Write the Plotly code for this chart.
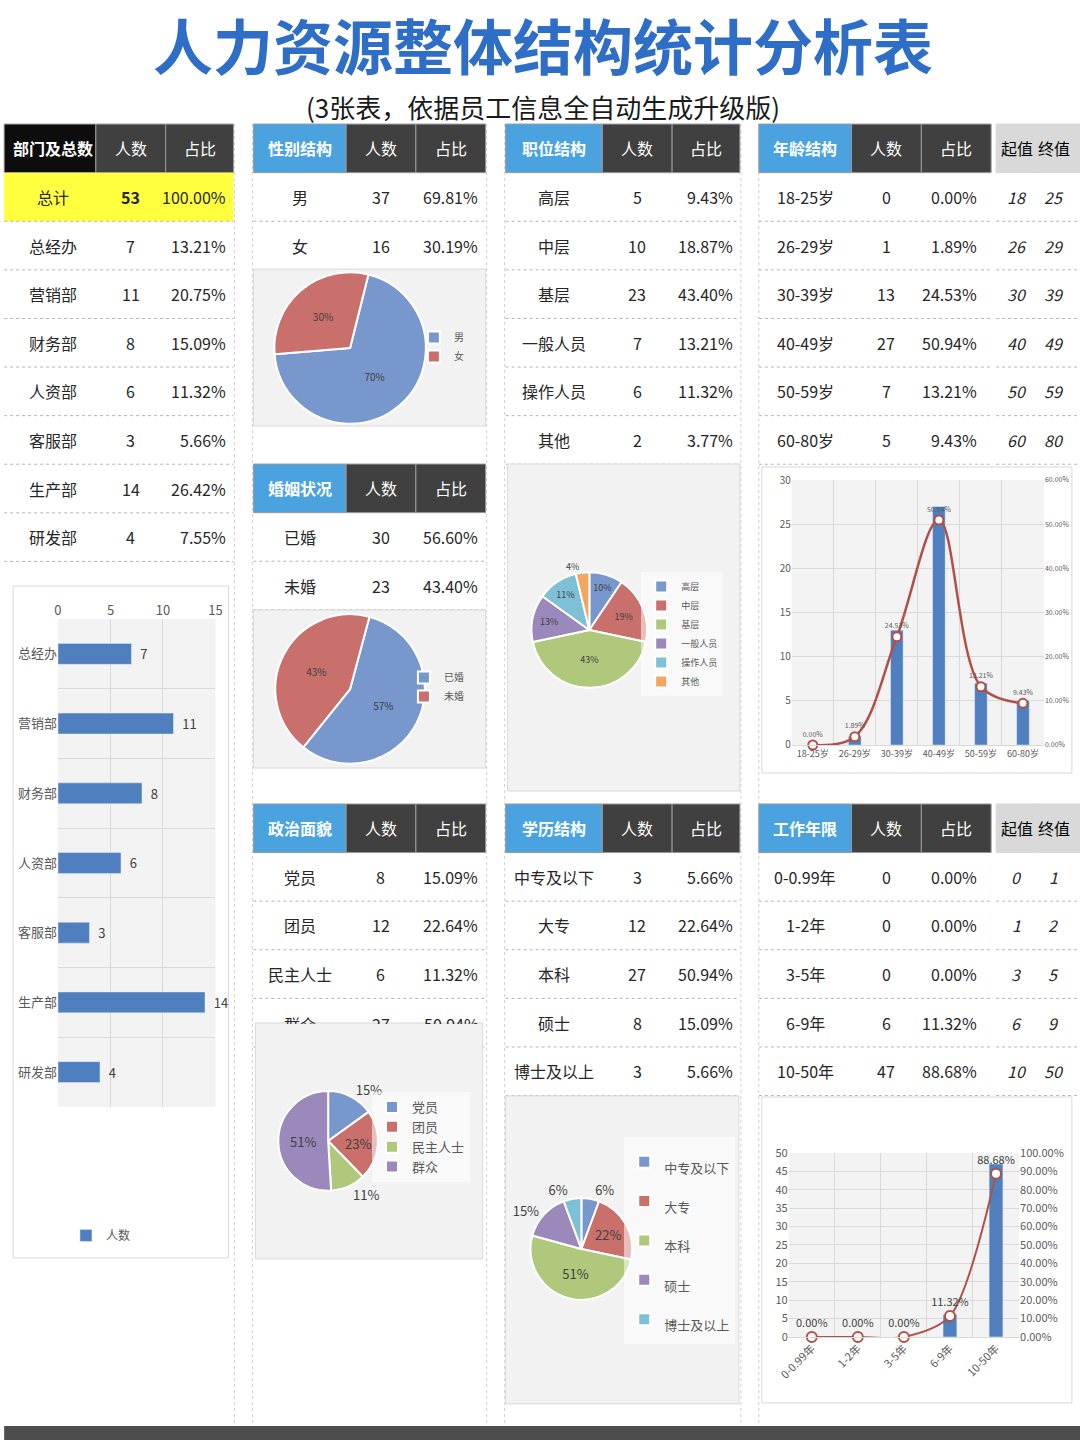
import plotly.graph_objects as go

# Window-pixel layout (1080x1440).  The page body keeps an 8px margin and the
# capture is scaled back to the window, so positions are mapped into figure
# coordinates with that small correction.
PAGE_W, PAGE_H, OFF = 1080, 1440, 8
W, H = PAGE_W, PAGE_H
SX = (PAGE_W + 2 * OFF) / PAGE_W
SY = (PAGE_H + 2 * OFF) / PAGE_H
FONT = "Noto Sans CJK SC, Noto Sans, sans-serif"

# ---------------- data ----------------
total_count = 53
dept_names = ['总经办', '营销部', '财务部', '人资部', '客服部', '生产部', '研发部']
dept_counts = [7, 11, 8, 6, 3, 14, 4]

gender_labels = ['男', '女']
gender_counts = [37, 16]
gender_pie_text = ['70%', '30%']

marital_labels = ['已婚', '未婚']
marital_counts = [30, 23]
marital_pie_text = ['57%', '43%']

position_labels = ['高层', '中层', '基层', '一般人员', '操作人员', '其他']
position_counts = [5, 10, 23, 7, 6, 2]
position_pie_text = ['10%', '19%', '43%', '13%', '11%', '4%']

age_labels = ['18-25岁', '26-29岁', '30-39岁', '40-49岁', '50-59岁', '60-80岁']
age_counts = [0, 1, 13, 27, 7, 5]
age_start = [18, 26, 30, 40, 50, 60]
age_end = [25, 29, 39, 49, 59, 80]

political_labels = ['党员', '团员', '民主人士', '群众']
political_counts = [8, 12, 6, 27]
political_pie_text = ['15%', '23%', '11%', '51%']

edu_labels = ['中专及以下', '大专', '本科', '硕士', '博士及以上']
edu_counts = [3, 12, 27, 8, 3]
edu_pie_text = ['6%', '22%', '51%', '15%', '6%']

work_labels = ['0-0.99年', '1-2年', '3-5年', '6-9年', '10-50年']
work_counts = [0, 0, 0, 6, 47]
work_start = [0, 1, 3, 6, 10]
work_end = [1, 2, 5, 9, 50]

# ---------------- style ----------------
PIE_COLORS = ['#7898cd', '#c96f6c', '#afc87c', '#9c89bb', '#7ec0d5', '#f2a660']
BAR_BLUE = '#4f7fbe'
LINE_RED = '#b24f49'
HDR_BLUE = '#4aa3df'
HDR_DARK = '#404040'
HDR_BLACK = '#0d0d0d'
TXT = '#262626'
NOFILL = 'rgba(0,0,0,0)'


def pct(c):
    return f'{c / total_count:.2%}'


def X(px):
    return (px * SX - OFF) / W


def Y(py):
    return 1 - (py * SY - OFF) / H


shapes = []
annotations = []


def rect(x0, y0, x1, y1, fill, line=None, lw=1, layer='below', dash='solid'):
    shapes.append(dict(type='rect', xref='paper', yref='paper',
                       x0=X(x0), x1=X(x1), y0=Y(y1), y1=Y(y0),
                       fillcolor=fill,
                       line=dict(color=line if line else NOFILL, width=lw if line else 0, dash=dash),
                       layer=layer))


def seg(x0, y0, x1, y1, color='#b4b4b4', dash='dot', width=1):
    shapes.append(dict(type='line', xref='paper', yref='paper',
                       x0=X(x0), x1=X(x1), y0=Y(y0), y1=Y(y1),
                       line=dict(color=color, width=width, dash=dash), layer='below'))


def text(x, y, s, size=16, color=TXT, xanchor='center', bold=False, italic=False, **kw):
    if bold:
        s = f'<b>{s}</b>'
    if italic:
        s = f'<i>{s}</i>'
    annotations.append(dict(x=X(x), y=Y(y), xref='paper', yref='paper', text=s,
                            showarrow=False, xanchor=xanchor, yanchor=kw.pop('yanchor', 'middle'),
                            font=dict(size=size, color=color, family=FONT), **kw))


RH = 48.6


def table(edges, top, headers, hfills, hcolors, rows, aligns, fills=None, italic=False,
          bold_title=True, rpad=5, clip_at=None, bold_cells=(), hborder='#9a9a9a', fill_edges=None):
    fe = fill_edges or edges
    for j, h in enumerate(headers):
        rect(fe[j], top, fe[j + 1], top + RH, hfills[j], line=hborder, lw=1)
        text((edges[j] + edges[j + 1]) / 2, top + RH / 2, h, size=16, color=hcolors[j],
             bold=(j == 0 and bold_title))
    for i, row in enumerate(rows):
        y0 = top + RH * (i + 1)
        yc = y0 + RH / 2
        if fills and fills[i]:
            rect(fe[0], y0, fe[-1], y0 + RH, fills[i])
        seg(fe[0], y0 + RH, fe[-1], y0 + RH)
        for j, v in enumerate(row):
            s = str(v)
            b = (i, j) in bold_cells
            if aligns[j] == 'right':
                xx, xa = edges[j + 1] - rpad, 'right'
            else:
                xx, xa = (edges[j] + edges[j + 1]) / 2, 'center'
            if clip_at is not None and yc + 10 > clip_at:
                top_y = clip_at - 12
                text(xx, top_y, s, size=16, xanchor=xa, bold=b, italic=italic,
                     yanchor='top', height=12, valign='top', borderpad=0)
            else:
                text(xx, yc, s, size=16, xanchor=xa, bold=b, italic=italic)


# ---------------- page decoration ----------------
for vx in [231, 249, 484, 502, 739, 757]:
    seg(vx, 123, vx, 1425, color='#d0d0d0')

text(540, 42, '人力资源整体结构统计分析表', size=60, color='#2f6ec6', bold=True)
text(540, 105, '(3张表，依据员工信息全自动生成升级版)', size=26, color='#1a1a1a')

# ---------------- tables ----------------
T1 = [6, 92, 162, 230]
T1F = [0, 92, 162, 230]
T2 = [250, 343, 413, 483]
T3 = [503, 600, 670, 738]
T4 = [757, 850, 920, 990]
T5 = [995, 1036, 1070]
T5F = [995, 1036, 1080]
HDR_FC = ['white', 'white', 'white']
AL = ['center', 'center', 'right']

dept_rows = [['总计', total_count, pct(total_count)]] + \
            [[n, c, pct(c)] for n, c in zip(dept_names, dept_counts)]
table(T1, 123, ['部门及总数', '人数', '占比'], [HDR_BLACK, HDR_DARK, HDR_DARK], HDR_FC,
      dept_rows, AL, fills=['#ffff3f'] + [None] * 7, bold_cells=[(0, 1)], fill_edges=T1F)

table(T2, 123, ['性别结构', '人数', '占比'], [HDR_BLUE, HDR_DARK, HDR_DARK], HDR_FC,
      [[n, c, pct(c)] for n, c in zip(gender_labels, gender_counts)], AL, rpad=6)
table(T2, 463, ['婚姻状况', '人数', '占比'], [HDR_BLUE, HDR_DARK, HDR_DARK], HDR_FC,
      [[n, c, pct(c)] for n, c in zip(marital_labels, marital_counts)], AL, rpad=6)
table(T2, 803, ['政治面貌', '人数', '占比'], [HDR_BLUE, HDR_DARK, HDR_DARK], HDR_FC,
      [[n, c, pct(c)] for n, c in zip(political_labels, political_counts)], AL, rpad=6,
      clip_at=1022)

table(T3, 123, ['职位结构', '人数', '占比'], [HDR_BLUE, HDR_DARK, HDR_DARK], HDR_FC,
      [[n, c, pct(c)] for n, c in zip(position_labels, position_counts)], AL)
table(T3, 803, ['学历结构', '人数', '占比'], [HDR_BLUE, HDR_DARK, HDR_DARK], HDR_FC,
      [[n, c, pct(c)] for n, c in zip(edu_labels, edu_counts)], AL)

table(T4, 123, ['年龄结构', '人数', '占比'], [HDR_BLUE, HDR_DARK, HDR_DARK], HDR_FC,
      [[n, c, pct(c)] for n, c in zip(age_labels, age_counts)], AL, rpad=12)
table(T5, 123, ['起值', '终值'], ['#d9d9d9', '#d9d9d9'], ['#000000', '#000000'],
      [[a, b] for a, b in zip(age_start, age_end)], ['center', 'center'], italic=True,
      bold_title=False, hborder='#d9d9d9', fill_edges=T5F)
table(T4, 803, ['工作年限', '人数', '占比'], [HDR_BLUE, HDR_DARK, HDR_DARK], HDR_FC,
      [[n, c, pct(c)] for n, c in zip(work_labels, work_counts)], AL, rpad=12)
table(T5, 803, ['起值', '终值'], ['#d9d9d9', '#d9d9d9'], ['#000000', '#000000'],
      [[a, b] for a, b in zip(work_start, work_end)], ['center', 'center'], italic=True,
      bold_title=False, hborder='#d9d9d9', fill_edges=T5F)

# ---------------- chart boxes ----------------
PIE_BOX = '#f2f2f2'
rect(250, 268, 483, 425, PIE_BOX, line='#d9d9d9')
rect(250, 609, 483, 767, PIE_BOX, line='#d9d9d9')
rect(505, 463, 738, 790, PIE_BOX, line='#d9d9d9')
rect(252, 1022, 480, 1258, PIE_BOX, line='#d9d9d9')
rect(503, 1095, 737, 1403, PIE_BOX, line='#d9d9d9')
rect(9, 585, 225, 1257, NOFILL, line='#d9d9d9')
rect(760, 466, 1071, 772, NOFILL, line='#d9d9d9')
rect(760, 1096, 1071, 1402, NOFILL, line='#d9d9d9')
rect(0, 1425, 1080, 1440, '#4d4d4d')

fig = go.Figure()

# ---------------- department bar chart ----------------
fig.add_trace(go.Bar(
    x=dept_counts, y=dept_names, orientation='h', name='人数',
    marker=dict(color=BAR_BLUE), text=dept_counts, texttemplate='\u00a0\u00a0%{x}',
    textposition='outside', textfont=dict(size=13, color='#404040'), cliponaxis=False,
    xaxis='x', yaxis='y', legend='legend'))

# ---------------- age chart ----------------
age_pct = [c / total_count for c in age_counts]
fig.add_trace(go.Bar(x=age_labels, y=age_counts, marker=dict(color=BAR_BLUE),
                     xaxis='x2', yaxis='y2', showlegend=False))
fig.add_trace(go.Scatter(
    x=age_labels, y=age_pct, mode='lines+markers+text', text=[f'{p:.2%}' for p in age_pct],
    textposition='top center', textfont=dict(size=7, color='#595959'),
    line=dict(color=LINE_RED, width=2.5, shape='spline', smoothing=1),
    marker=dict(size=9, color='white', line=dict(color=LINE_RED, width=2)),
    xaxis='x2', yaxis='y3', showlegend=False, cliponaxis=False))

# ---------------- work years chart ----------------
work_pct = [c / total_count for c in work_counts]
fig.add_trace(go.Bar(x=work_labels, y=work_counts, marker=dict(color=BAR_BLUE),
                     xaxis='x3', yaxis='y4', showlegend=False))
fig.add_trace(go.Scatter(
    x=work_labels, y=work_pct, mode='lines+markers+text', text=[f'{p:.2%}' for p in work_pct],
    textposition='top center', textfont=dict(size=11, color='#404040'),
    line=dict(color=LINE_RED, width=2, shape='spline', smoothing=0.8),
    marker=dict(size=10, color='white', line=dict(color=LINE_RED, width=2)),
    xaxis='x3', yaxis='y5', showlegend=False, cliponaxis=False))


# ---------------- pies ----------------
def pie(labels, values, texts, cx, cy, r, rotation, legend, textsize, textpos='inside', legend_labels=None):
    n = len(labels)
    fig.add_trace(go.Pie(
        labels=legend_labels or labels, values=values, text=texts, texttemplate='%{text}',
        textposition=textpos, sort=False, direction='clockwise', rotation=rotation,
        marker=dict(colors=PIE_COLORS[:n], line=dict(color='white', width=2)),
        domain=dict(x=[X(cx - r), X(cx + r)], y=[Y(cy + r), Y(cy - r)]),
        textfont=dict(size=textsize, color='#404040', family=FONT),
        insidetextorientation='horizontal', legend=legend, showlegend=True))


pie(gender_labels, gender_counts, gender_pie_text, 347, 347, 76, 14, 'legend2', 10)
pie(marital_labels, marital_counts, marital_pie_text, 347, 688, 75, 15, 'legend3', 10)
pie(position_labels, position_counts, position_pie_text, 587, 629, 58, 0, 'legend4', 9,
    textpos=['inside'] * 5 + ['outside'])
pie(political_labels, political_counts, political_pie_text, 325, 1140, 50, 0, 'legend5', 13,
    textpos=['outside', 'inside', 'outside', 'inside'])
pie(edu_labels, edu_counts, edu_pie_text, 579, 1248, 51, 0, 'legend6', 13,
    textpos=['outside', 'inside', 'inside', 'outside', 'outside'],
    legend_labels=[f'<span style="font-size:13px">{s}</span>' for s in edu_labels])

# ---------------- layout ----------------
AX_FONT = dict(family=FONT, color='#595959')
GRID = '#d9d9d9'


def leg(x, y, size, bg='rgba(255,255,255,0.55)'):
    return dict(x=X(x), y=Y(y), xanchor='left', yanchor='top', bgcolor=bg,
                font=dict(size=size, color='#595959', family=FONT), itemwidth=30,
                borderwidth=0)


fig.update_layout(
    width=W, height=H, margin=dict(l=0, r=0, t=0, b=0), autosize=False,
    paper_bgcolor='white', plot_bgcolor='#f3f3f3', bargap=0.7,
    font=dict(family=FONT), shapes=shapes, annotations=annotations,
    legend=leg(62, 1220, 12, bg=NOFILL),
    legend2=leg(411, 322, 10, bg=NOFILL),
    legend3=leg(401, 662, 10, bg=NOFILL),
    legend4=leg(639, 571, 9),
    legend5=leg(369, 1091, 13),
    legend6=leg(622, 1136, 28),
    xaxis=dict(domain=[X(54), X(212)], anchor='y', side='top', range=[0, 15], dtick=5,
               showgrid=True, gridcolor=GRID, zeroline=False, tickfont=dict(size=13, **AX_FONT),
               fixedrange=True),
    yaxis=dict(domain=[Y(1106), Y(618)], anchor='x', type='category', autorange='reversed',
               tickson='boundaries', showgrid=True, gridcolor=GRID,
               tickfont=dict(size=13, **AX_FONT), fixedrange=True),
    xaxis2=dict(domain=[X(790), X(1043)], anchor='y2', type='category', tickson='boundaries',
                showgrid=True, gridcolor=GRID, tickfont=dict(size=9, **AX_FONT), fixedrange=True,
                showline=True, linecolor=GRID),
    yaxis2=dict(domain=[Y(744), Y(479)], anchor='x2', range=[0, 30], dtick=5, showgrid=True,
                gridcolor=GRID, zeroline=False, tickfont=dict(size=10, **AX_FONT), fixedrange=True),
    yaxis3=dict(overlaying='y2', anchor='x2', side='right', range=[0, 0.6], dtick=0.1,
                tickformat='.2%', showgrid=False, zeroline=False,
                tickfont=dict(size=7, **AX_FONT), fixedrange=True),
    xaxis3=dict(domain=[X(787), X(1018)], anchor='y4', type='category', tickson='boundaries',
                showgrid=True, gridcolor=GRID, tickangle=-45, tickfont=dict(size=11, **AX_FONT),
                fixedrange=True, showline=True, linecolor=GRID),
    yaxis4=dict(domain=[Y(1336), Y(1152)], anchor='x3', range=[0, 50], dtick=5, showgrid=True,
                gridcolor=GRID, zeroline=False, tickfont=dict(size=11, **AX_FONT), fixedrange=True),
    yaxis5=dict(overlaying='y4', anchor='x3', side='right', range=[0, 1], dtick=0.1,
                tickformat='.2%', showgrid=False, zeroline=False,
                tickfont=dict(size=11, **AX_FONT), fixedrange=True),
)

fig.write_html("out.html")
